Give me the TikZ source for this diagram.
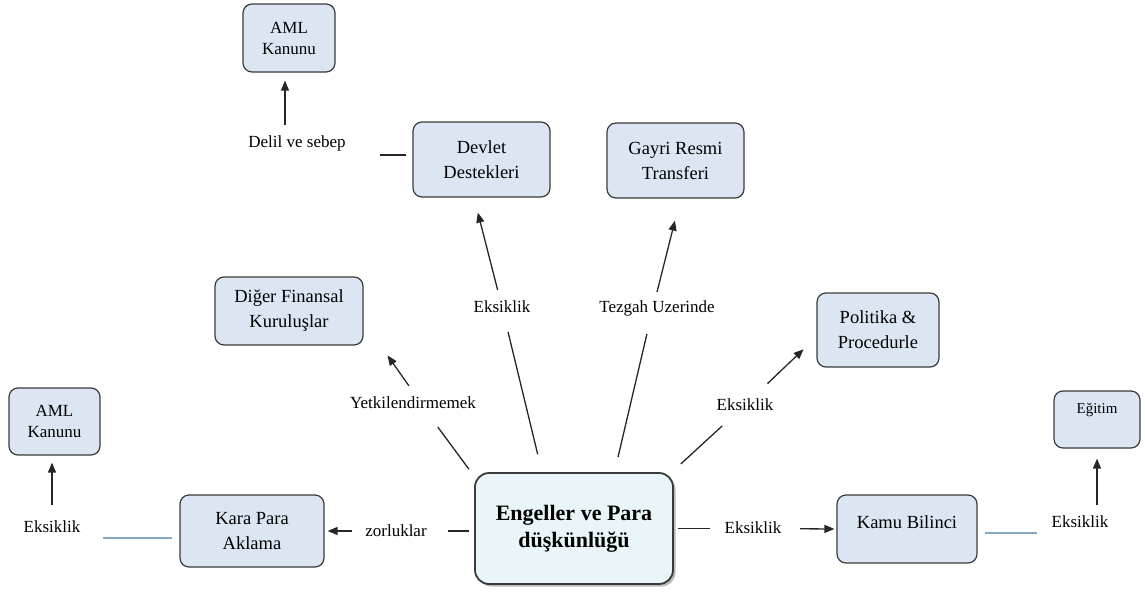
\documentclass[tikz,border=0pt]{standalone}
\usepackage{fontspec}
\setmainfont{Liberation Serif}
\usetikzlibrary{arrows.meta,shadows}
\definecolor{boxfill}{HTML}{DCE6F2}
\definecolor{corefill}{HTML}{EAF5F9}
\definecolor{edge}{HTML}{3A3A3A}
\definecolor{tiecol}{HTML}{86AAC4}
\begin{document}
\begin{tikzpicture}[x=1pt,y=-1pt,
  box/.style={draw=edge, line width=1.2pt, fill=boxfill, rounded corners=9pt,
    align=center, inner sep=0pt, font=\fontsize{18.5}{25}\selectfont},
  core/.style={draw=edge, line width=1.8pt, fill=corefill, rounded corners=14pt,
    align=center, inner sep=0pt, minimum width=198pt, minimum height=111pt,
    drop shadow={shadow xshift=2.5pt, shadow yshift=-2.5pt, fill=black!45, opacity=0.6},
    font=\bfseries\fontsize{22}{27}\selectfont},
  lbl/.style={inner sep=0pt, font=\fontsize{17}{20}\selectfont},
  ln/.style={line width=1.3pt, draw=black!85},
  arr/.style={ln, -{Triangle[length=10pt,width=8pt]}},
  tie/.style={line width=1.1pt, draw=tiecol}]
\useasboundingbox (0,0) rectangle (1145,594);

% boxes
\node[box, minimum width=92pt, minimum height=68pt, font=\fontsize{17}{21}\selectfont] (amlT) at (289,38) {AML\\Kanunu};
\node[box, minimum width=137pt, minimum height=75pt] (devlet) at (481.5,159.5) {Devlet\\Destekleri};
\node[box, minimum width=137pt, minimum height=75pt] (gayri) at (675.5,160.5) {Gayri Resmi\\Transferi};
\node[box, minimum width=148pt, minimum height=68pt] (diger) at (289,311) {Diğer Finansal\\Kuruluşlar};
\node[box, minimum width=122pt, minimum height=74pt] (politika) at (878,330) {Politika \&\\Procedurle};
\node[box, minimum width=91pt, minimum height=67pt, font=\fontsize{17}{21}\selectfont] (amlL) at (54.5,421.5) {AML\\Kanunu};
\node[box, minimum width=86pt, minimum height=57pt, font=\fontsize{15}{18}\selectfont] (egitim) at (1097,419.5) {\raisebox{9.5pt}[\height][\depth]{Eğitim}};
\node[box, minimum width=144pt, minimum height=72pt] (kara) at (252,531) {Kara Para\\Aklama};
\node[box, minimum width=140pt, minimum height=68pt] (kamu) at (907,529) {\raisebox{7pt}[\height][\depth]{Kamu Bilinci}};
\node[core] (central) at (574,528.5) {Engeller ve Para\\düşkünlüğü};

% labels
\node[lbl] (delil) at (297,143) {Delil ve sebep};
\node[lbl] (eksTop) at (502,307) {Eksiklik};
\node[lbl] (tezgah) at (657,308) {Tezgah Uzerinde};
\node[lbl] (yetki) at (413,403) {Yetkilendirmemek};
\node[lbl] (eksR1) at (745,405) {Eksiklik};
\node[lbl] (eksL) at (52,527) {Eksiklik};
\node[lbl] (zor) at (396,531) {zorluklar};
\node[lbl] (eksMid) at (753,528) {Eksiklik};
\node[lbl] (eksR2) at (1080,522) {Eksiklik};

% left branch
\draw[ln, shorten <=5pt, shorten >=52pt] (central.west |- zor) -- (zor.center);
\draw[arr, shorten <=44pt, shorten >=3pt] (zor.center) -- (kara.east |- zor);
\draw[tie, shorten <=7pt, shorten >=51pt] ([yshift=-7pt]kara.west) -- ([yshift=-11pt]eksL.center);
\draw[arr, shorten <=22pt, shorten >=7pt] (eksL.center) -- (amlL.south -| eksL.center);

% upper-left branch
\draw[ln, shorten <=3.6pt, shorten >=30pt] ([xshift=-3pt]central.north west) -- ([xshift=7pt]yetki.center);
\draw[arr, shorten <=21pt, shorten >=12pt] ([xshift=8pt]yetki.center) -- ([xshift=17pt]diger.south east);

% upper branches
\draw[ln, shorten <=18.4pt, shorten >=25.7pt] ([xshift=-32pt]central.north) -- (eksTop.center);
\draw[arr, shorten <=17.5pt, shorten >=15.5pt] (eksTop.center) -- ([xshift=-7.5pt]devlet.south);
\draw[ln, shorten <=6pt, shorten >=83pt] ([yshift=4.5pt]devlet.west) -- ([yshift=-12pt]delil.center);
\draw[arr, shorten <=18pt, shorten >=8pt] ([xshift=-12pt]delil.center) -- ([xshift=-4pt]amlT.south);

\draw[ln, shorten <=15.4pt, shorten >=26.7pt] ([xshift=40.5pt]central.north) -- ([xshift=-4pt]tezgah.center);
\draw[arr, shorten <=16.5pt, shorten >=22.7pt] ([xshift=-4pt]tezgah.center) -- ([xshift=5pt]gayri.south);

% upper-right branch
\draw[ln, shorten <=12pt, shorten >=31pt] ([xshift=-2pt]central.north east) -- (eksR1.center);
\draw[arr, shorten <=31pt, shorten >=17.7pt] (eksR1.center) -- ([yshift=-7pt]politika.west);

% right branch
\draw[ln, shorten <=4pt, shorten >=43pt] (central.east) -- (eksMid.center |- central.east);
\draw[arr, shorten <=47pt, shorten >=2pt] (eksMid.center |- central.east) -- (kamu.west);
\draw[tie, shorten <=7pt, shorten >=43pt] ([yshift=-4pt]kamu.east) -- ([yshift=-11pt]eksR2.center);
\draw[arr, shorten <=17pt, shorten >=10pt] (egitim.south |- eksR2.center) -- (egitim.south);
\end{tikzpicture}
\end{document}
